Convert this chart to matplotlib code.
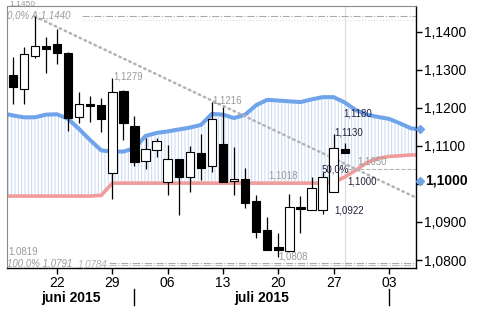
import matplotlib
matplotlib.use('Agg')
import matplotlib.pyplot as plt
import numpy as np
import pandas as pd
from matplotlib.patches import Rectangle
from matplotlib.ticker import FixedLocator, FuncFormatter

plt.rcParams['font.family'] = ['Liberation Sans', 'DejaVu Sans']
plt.rcParams['hatch.linewidth'] = 0.7

# ---------------- data ----------------
candle_start = '2015-06-16'
opens  = [1.1286, 1.1250, 1.1337, 1.1362, 1.1368, 1.1345, 1.1175, 1.1209, 1.1207, 1.1029,
          1.1244, 1.1152, 1.1060, 1.1088, 1.1006, 1.1065, 1.1017, 1.1082, 1.1046, 1.1104,
          1.1007, 1.1012, 1.0955, 1.0879, 1.0833, 1.0824, 1.0940, 1.0931, 1.0931, 1.0980,
          1.1091]
highs  = [1.1334, 1.1359, 1.1440, 1.1387, 1.1407, 1.1347, 1.1242, 1.1232, 1.1225, 1.1279,
          1.1247, 1.1178, 1.1121, 1.1121, 1.1102, 1.1066, 1.1100, 1.1130, 1.1216, 1.1201,
          1.1098, 1.1041, 1.0971, 1.0913, 1.0870, 1.0973, 1.0968, 1.1018, 1.1030, 1.1130,
          1.1107]
lows   = [1.1210, 1.1209, 1.1331, 1.1291, 1.1314, 1.1140, 1.1159, 1.1163, 1.1137, 1.0960,
          1.1115, 1.1047, 1.1038, 1.1070, 1.0972, 1.0919, 1.0978, 1.1010, 1.1032, 1.1004,
          1.0971, 1.0936, 1.0858, 1.0826, 1.0808, 1.0823, 1.0870, 1.0931, 1.0922, 1.0979,
          1.1081]
closes = [1.1254, 1.1341, 1.1362, 1.1354, 1.1343, 1.1174, 1.1209, 1.1205, 1.1170, 1.1241,
          1.1159, 1.1058, 1.1091, 1.1113, 1.1065, 1.1017, 1.1085, 1.1041, 1.1170, 1.1006,
          1.1012, 1.0949, 1.0874, 1.0826, 1.0825, 1.0940, 1.0933, 1.0988, 1.1018, 1.1094,
          1.1082]

cloud_start = '2015-06-15'
span_a = [1.1186, 1.1180, 1.1175, 1.1175, 1.1182, 1.1183, 1.1171, 1.1144, 1.1115, 1.1088,
          1.1085, 1.1085, 1.1094, 1.1126, 1.1134, 1.1138, 1.1143, 1.1148, 1.1155, 1.1184,
          1.1182, 1.1173, 1.1182, 1.1207, 1.1221, 1.1219, 1.1217, 1.1215, 1.1222, 1.1228,
          1.1228, 1.1214, 1.1194, 1.1182, 1.1176, 1.1171, 1.1159, 1.1146, 1.1143]
span_b = [1.0968, 1.0968, 1.0968, 1.0968, 1.0968, 1.0968, 1.0968, 1.0968, 1.0968, 1.0970,
          1.1002, 1.1002, 1.1002, 1.1002, 1.1002, 1.1002, 1.1002, 1.1002, 1.1002, 1.1002,
          1.1002, 1.1002, 1.1002, 1.1002, 1.1002, 1.1002, 1.1002, 1.1002, 1.1002, 1.1002,
          1.1004, 1.1018, 1.1036, 1.1056, 1.1067, 1.1072, 1.1074, 1.1076, 1.1076]

trend_prices = [1.1440, 1.0964]
fib_top = 1.1440
fib_bottom = [1.0791, 1.0787]
fib_mid = 1.1039
last_price = 1.1008
y_ticks = [1.08, 1.09, 1.10, 1.11, 1.12, 1.13, 1.14]
month_names = {6: 'juni', 7: 'juli', 8: 'augustus'}

# ---------------- figure ----------------
W, H = 484, 319
fig = plt.figure(figsize=(W / 100, H / 100), dpi=100)
ax = fig.add_axes([7 / W, 1 - 268 / H, 409 / W, 262 / H])

cdates = pd.bdate_range(candle_start, periods=len(opens))
all_dates = pd.bdate_range(cloud_start, periods=len(span_a))
cx = np.arange(len(all_dates)) - 1          # Jun 15 -> -1
x = np.arange(len(opens))

XMIN, XMAX = -0.52, 36.44
YMIN, YMAX = 1.0779, 1.14675
ax.set_xlim(XMIN, XMAX)
ax.set_ylim(YMIN, YMAX)

# cloud
ax.fill_between(cx, span_a, span_b, facecolor='none', edgecolor='#c6d8f2',
                hatch='|||||', linewidth=0, zorder=1)
ax.plot(cx, span_b, color='#f19c9a', lw=2.6, zorder=2, solid_joinstyle='round')
ax.plot(cx, span_a, color='#6fa3ea', lw=2.9, zorder=2, solid_joinstyle='round')

# fib / trend annotations
ax.plot([2, XMAX], trend_prices, color='#b3b3b3', lw=1.8, ls=(0, (0.6, 1.6)),
        dash_capstyle='round', zorder=2)
ax.plot([6.3, XMAX], [fib_top, fib_top], color='#aaaaaa', lw=0.8, ls='-.', zorder=2)
ax.plot([6.3, XMAX], [fib_top - 0.0008] * 2, color='#dddddd', lw=0.8, ls=':', zorder=2)
ax.plot([8.7, XMAX], [fib_bottom[0]] * 2, color='#aaaaaa', lw=0.8, ls='-.', zorder=2)
ax.plot([8.7, XMAX], [fib_bottom[1]] * 2, color='#bbbbbb', lw=0.8, ls='-.', zorder=2)
ax.plot([30.3, XMAX], [fib_mid, fib_mid], color='#b5b5b5', lw=0.8, ls='--', zorder=2)
ax.axvline(len(opens) - 1, color='#dcdcdc', lw=0.8, zorder=1)

# candles
bw = 0.76
for i in x:
    o, h, l, c = opens[i], highs[i], lows[i], closes[i]
    ax.plot([i, i], [l, h], color='black', lw=0.9, zorder=3, solid_capstyle='butt')
    bottom = min(o, c)
    height = max(abs(c - o), 0.00008)
    fc = 'white' if c >= o else 'black'
    ax.add_patch(Rectangle((i - bw / 2, bottom), bw, height, facecolor=fc,
                           edgecolor='black', lw=0.8, zorder=4))

# text labels
gray = '#9a9a9a'
dark = '#22223a'
fs = 7
def lab(xi, yv, s, color, style='normal'):
    ax.text(xi, yv, s, color=color, fontsize=fs, ha='left', va='center',
            style=style, zorder=5)

lab(9.06, 1.1282, '1,1279', gray)
lab(18.0, 1.1218, '1,1216', gray)
lab(23.06, 1.1023, '1,1018', gray)
lab(23.97, 1.0809, '1,0808', gray)
lab(29.03, 1.1136, '1,1130', dark)
lab(29.84, 1.1185, '1,1180', dark)
lab(31.1, 1.1058, '1,1050', gray)
lab(27.94, 1.1039, '50,0%', dark)
lab(30.2, 1.1005, '1,1000', dark)
lab(29.1, 1.0929, '1,0922', dark)
lab(-0.42, 1.0820, '1.0819', gray)
lab(-0.51, 1.0791, '100,0% 1,0791', gray, 'italic')
lab(5.9, 1.0787, '1,0784', '#b0b0b0', 'italic')
lab(-0.52, 1.14426, '0,0% A;1,1440', gray, 'italic')
fig.text(9 / W, 1.0, '1,1450', color=gray, fontsize=6, ha='left', va='top')

# spines
for s in ['left', 'top']:
    ax.spines[s].set_color('#8a8a8a')
    ax.spines[s].set_linewidth(0.8)
for s in ['right', 'bottom']:
    ax.spines[s].set_color('black')
    ax.spines[s].set_linewidth(1.0)

# y axis on right
ax.yaxis.tick_right()
ax.yaxis.set_major_locator(FixedLocator(y_ticks))
ax.yaxis.set_major_formatter(FuncFormatter(
    lambda v, p: '' if abs(v - 1.10) < 1e-9 else f'{v:.4f}'.replace('.', ',')))
ax.tick_params(axis='y', direction='out', length=4, width=1, pad=2,
               labelsize=10, colors='black', left=False)
ax.text(1.0 + 9 / 409, last_price, f'{1.10:.4f}'.replace('.', ','),
        transform=ax.get_yaxis_transform(), fontsize=10, fontweight='bold',
        ha='left', va='center', clip_on=False)
ax.plot([XMAX + 4 / 11.07], [last_price], marker='D', ms=4.5, color='#6fa3ea',
        clip_on=False, zorder=6)
blue_end = np.interp(XMAX, cx, span_a)
ax.plot([XMAX + 4 / 11.07], [blue_end], marker='D', ms=4.5, color='#6fa3ea',
        clip_on=False, zorder=6)

# x axis: Mondays
mondays = [i for i, d in enumerate(all_dates) if d.weekday() == 0 and XMIN <= cx[i] <= XMAX]
ax.xaxis.set_major_locator(FixedLocator([cx[i] for i in mondays]))
ax.set_xticklabels([all_dates[i].strftime('%d') for i in mondays])
ax.tick_params(axis='x', direction='out', length=4, width=1, pad=2, labelsize=10,
               colors='black')

# month separators and labels
firsts = [i for i in range(1, len(all_dates)) if all_dates[i].month != all_dates[i - 1].month]
trans = ax.get_xaxis_transform()
bounds = [XMIN] + [cx[i] for i in firsts] + [XMAX]
for i in firsts:
    ax.plot([cx[i], cx[i]], [-21 / 262, -37 / 262], color='black', lw=1,
            transform=trans, clip_on=False)
months = [all_dates[0]] + [all_dates[i] for i in firsts]
for k, m in enumerate(months):
    lo, hi = bounds[k], bounds[k + 1]
    if hi - lo < 8:
        continue
    ax.text((lo + hi) / 2, -30 / 262, f'{month_names[m.month]} {m.year}',
            transform=trans, ha='center', va='center', fontsize=10,
            fontweight='bold', clip_on=False)

fig.savefig('out.png', dpi=100, facecolor='white')
